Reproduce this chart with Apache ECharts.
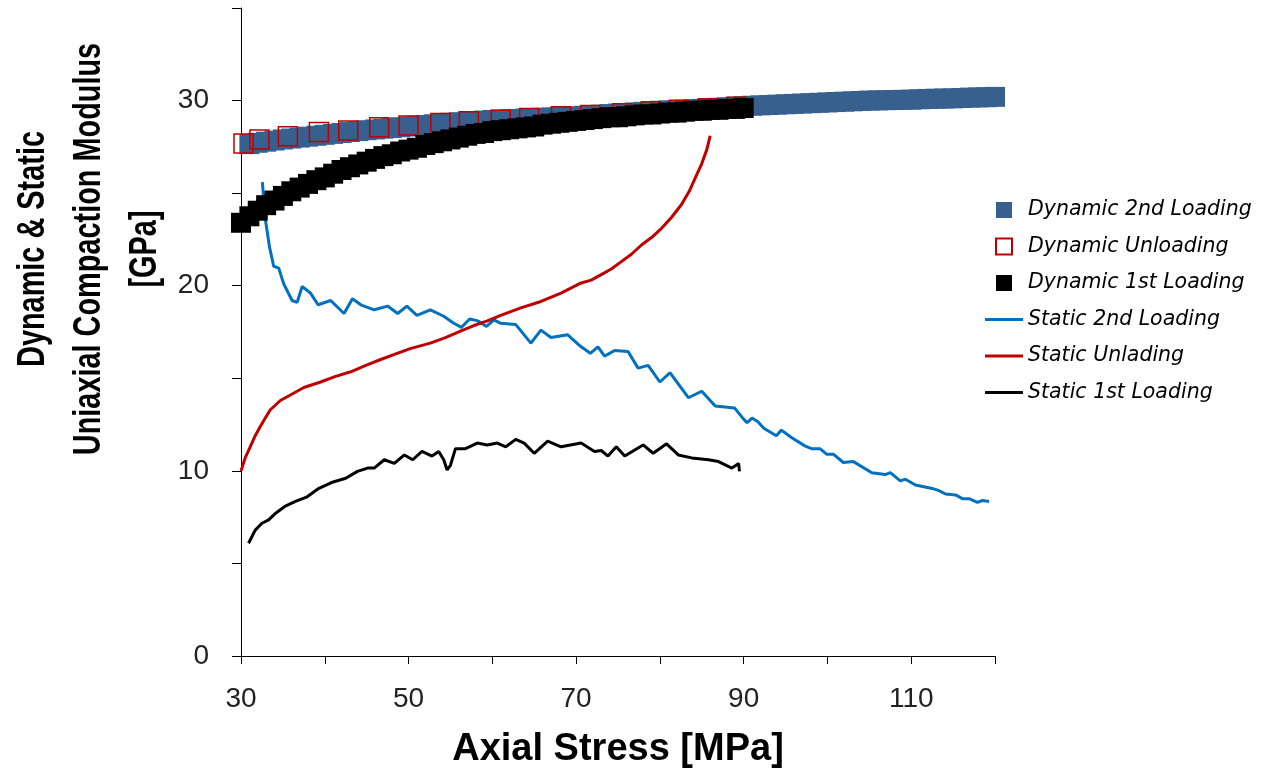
<!DOCTYPE html>
<html>
<head>
<meta charset="utf-8">
<script src="https://cdn.jsdelivr.net/npm/echarts@6/dist/echarts.min.js"></script>
<style>
  html, body { margin: 0; padding: 0; background: #fff; }
  #chart { width: 1268px; height: 772px; }
</style>
</head>
<body>
<div id="chart"></div>
<script>
// tick labels shown on the axes
var xTickLabels = [30, 50, 70, 90, 110];
var yTickLabels = [0, 10, 20, 30];

// Dynamic 2nd Loading (dense blue squares)
var dyn2X = [31, 32, 33, 34, 35, 36, 37, 38, 39, 40, 41, 42, 43, 44, 45, 46, 47, 48, 49, 50,
  51, 52, 53, 54, 55, 56, 57, 58, 59, 60, 61, 62, 63, 64, 65, 66, 67, 68, 69, 70,
  71, 72, 73, 74, 75, 76, 77, 78, 79, 80, 81, 82, 83, 84, 85, 86, 87, 88, 89, 90,
  91, 92, 93, 94, 95, 96, 97, 98, 99, 100, 101, 102, 103, 104, 105, 106, 107, 108, 109, 110,
  111, 112, 113, 114, 115, 116, 117, 118, 119, 120];
var dyn2Y = [27.65, 27.72, 27.78, 27.84, 27.9, 27.95, 28.0, 28.05, 28.1, 28.15, 28.2, 28.25, 28.3, 28.35, 28.4, 28.44, 28.48, 28.52, 28.56, 28.6,
  28.64, 28.68, 28.72, 28.76, 28.8, 28.83, 28.86, 28.89, 28.92, 28.95, 28.97, 28.99, 29.01, 29.03, 29.05, 29.07, 29.09, 29.11, 29.13, 29.15,
  29.18, 29.21, 29.24, 29.27, 29.3, 29.33, 29.36, 29.39, 29.42, 29.45, 29.47, 29.49, 29.51, 29.53, 29.55, 29.58, 29.61, 29.64, 29.67, 29.7,
  29.72, 29.74, 29.76, 29.78, 29.8, 29.82, 29.84, 29.86, 29.88, 29.9, 29.92, 29.94, 29.96, 29.98, 30.0, 30.01, 30.02, 30.03, 30.04, 30.05,
  30.07, 30.09, 30.1, 30.11, 30.12, 30.14, 30.16, 30.17, 30.18, 30.2];

// Dynamic Unloading (hollow red squares)
var dynUnX = [30.3, 32.2, 35.6, 39.3, 42.8, 46.5, 50.0, 53.8, 57.2, 61.0, 64.4, 68.2, 71.7, 75.5, 78.9, 82.3, 85.7, 89.2];
var dynUnY = [27.68, 27.9, 28.07, 28.3, 28.38, 28.56, 28.65, 28.79, 28.88, 28.97, 29.06, 29.15, 29.22, 29.32, 29.42, 29.5, 29.58, 29.66];

// Dynamic 1st Loading (dense black squares)
var dyn1X = [30, 31, 32, 33, 34, 35, 36, 37, 38, 39, 40, 41, 42, 43, 44, 45, 46, 47, 48, 49, 50,
  51, 52, 53, 54, 55, 56, 57, 58, 59, 60, 61, 62, 63, 64, 65, 66, 67, 68, 69, 70,
  71, 72, 73, 74, 75, 76, 77, 78, 79, 80, 81, 82, 83, 84, 85, 86, 87, 88, 89, 90];
var dyn1Y = [23.4, 23.75, 24.05, 24.35, 24.6, 24.85, 25.1, 25.3, 25.5, 25.7, 25.85, 26.05, 26.25, 26.4, 26.55, 26.7, 26.85, 27.0, 27.1, 27.25, 27.35,
  27.45, 27.6, 27.7, 27.8, 27.9, 28.0, 28.1, 28.2, 28.25, 28.35, 28.4, 28.45, 28.5, 28.55, 28.6, 28.7, 28.75, 28.8, 28.85, 28.9,
  28.95, 29.0, 29.05, 29.1, 29.1, 29.15, 29.2, 29.25, 29.25, 29.3, 29.35, 29.35, 29.4, 29.45, 29.45, 29.5, 29.5, 29.55, 29.55, 29.6];

// Static 2nd Loading (blue line)
var st2X = [32.55, 32.9, 33.4, 33.9, 34.5, 35.1, 36.1, 36.7, 37.3, 38.3, 39.2, 40.7, 42.3, 43.3, 44.3, 45.9, 47.5, 48.7, 49.8, 51.0,
  52.6, 54.2, 55.3, 56.3, 57.3, 58.3, 59.3, 60.2, 61.0, 62.8, 64.6, 65.8, 67.0, 69.0, 70.6, 71.7, 72.6, 73.4, 74.6, 76.2,
  77.4, 78.6, 80.0, 81.2, 83.4, 85.0, 86.6, 88.9, 89.8, 90.4, 91.0, 91.7, 92.4, 93.9, 94.5, 95.7, 97.3, 98.1, 99.1, 99.9,
  100.7, 101.9, 103.1, 105.3, 106.9, 107.5, 108.7, 109.3, 110.5, 112.5, 113.3, 114.1, 115.3, 116.1, 116.9, 117.9, 118.5, 119.3];
var st2Y = [25.6, 23.6, 22.1, 21.05, 20.95, 20.1, 19.2, 19.1, 19.96, 19.6, 18.97, 19.2, 18.5, 19.3, 18.97, 18.7, 18.9, 18.5, 18.9, 18.4,
  18.7, 18.35, 18.0, 17.75, 18.2, 18.1, 17.8, 18.15, 17.97, 17.9, 16.9, 17.6, 17.2, 17.35, 16.7, 16.35, 16.7, 16.2, 16.5, 16.45,
  15.55, 15.7, 14.8, 15.3, 13.95, 14.3, 13.5, 13.4, 12.9, 12.6, 12.85, 12.65, 12.3, 11.9, 12.2, 11.8, 11.35, 11.2, 11.2, 10.9,
  10.9, 10.45, 10.5, 9.9, 9.8, 9.9, 9.46, 9.55, 9.24, 9.05, 8.93, 8.75, 8.7, 8.5, 8.5, 8.3, 8.4, 8.35];

// Static Unlading (red line)
var stUnX = [30.0, 30.5, 31.1, 31.7, 32.3, 32.9, 33.5, 34.7, 35.9, 37.5, 39.5, 41.3, 43.1, 44.9, 46.6, 48.4, 50.2, 52.6, 54.4, 56.2,
  57.8, 59.4, 61.0, 63.4, 65.8, 68.2, 70.6, 71.8, 73.0, 74.2, 75.4, 76.6, 77.8, 79.0, 80.2, 81.4, 82.6, 83.5, 84.4, 85.0, 85.6, 86.0];
var stUnY = [10.0, 10.7, 11.3, 11.9, 12.4, 12.85, 13.3, 13.8, 14.1, 14.5, 14.8, 15.1, 15.35, 15.7, 16.0, 16.3, 16.6, 16.9, 17.2, 17.55,
  17.85, 18.1, 18.4, 18.8, 19.15, 19.6, 20.15, 20.3, 20.6, 20.9, 21.3, 21.7, 22.2, 22.6, 23.1, 23.7, 24.4, 25.1, 26.0, 26.6, 27.35, 28.1];

// Static 1st Loading (black line)
var st1X = [30.9, 31.7, 32.5, 33.3, 34.1, 35.3, 36.5, 37.9, 39.3, 40.8, 42.5, 43.9, 45.1, 45.9, 47.1, 48.3, 49.5, 50.5, 51.6, 52.8,
  53.6, 54.2, 54.6, 55.0, 55.6, 56.8, 58.2, 59.4, 60.6, 61.6, 62.8, 63.8, 65.0, 66.6, 68.2, 70.6, 72.2, 73.0, 73.8, 74.8,
  75.8, 78.0, 79.2, 80.8, 82.2, 83.8, 85.8, 87.0, 88.6, 89.4, 89.5];
var st1Y = [6.09, 6.8, 7.17, 7.35, 7.7, 8.1, 8.35, 8.6, 9.06, 9.37, 9.6, 9.97, 10.15, 10.15, 10.6, 10.4, 10.86, 10.6, 11.05, 10.8,
  11.05, 10.6, 10.05, 10.3, 11.2, 11.2, 11.5, 11.4, 11.5, 11.3, 11.7, 11.5, 10.95, 11.6, 11.3, 11.5, 11.05, 11.1, 10.8, 11.3,
  10.8, 11.4, 10.95, 11.46, 10.86, 10.7, 10.6, 10.5, 10.15, 10.4, 9.97];

function pairs(xs, ys) {
  var out = [];
  for (var i = 0; i < xs.length; i++) out.push([xs[i], ys[i]]);
  return out;
}

// legend icons: a centred square for the dynamic series, a short bar for the static ones
var squareIcon = 'path://M0,0L10,0L10,10L0,10Z';
var lineIcon = 'path://M0,0L38,0L38,3L0,3Z';

var chart = echarts.init(document.getElementById('chart'));
var tickFont = 'Liberation Sans, Arial, sans-serif';

chart.setOption({
  animation: false,
  backgroundColor: '#fff',
  grid: { left: 241, right: 273, top: 8, bottom: 116, containLabel: false, outerBoundsMode: 'none' },
  legend: {
    orient: 'vertical',
    left: 985,
    top: 200,
    padding: 0,
    itemWidth: 38,
    itemHeight: 16,
    itemGap: 16.5,
    symbolKeepAspect: true,
    textStyle: { fontFamily: 'DejaVu Sans, sans-serif', fontStyle: 'italic', fontSize: 20.5, lineHeight: 20, color: '#000' },
    data: [
      { name: 'Dynamic 2nd Loading', icon: squareIcon },
      { name: 'Dynamic Unloading', icon: squareIcon },
      { name: 'Dynamic 1st Loading', icon: squareIcon },
      { name: 'Static 2nd Loading', icon: lineIcon },
      { name: 'Static Unlading', icon: lineIcon },
      { name: 'Static 1st Loading', icon: lineIcon }
    ]
  },
  xAxis: {
    type: 'value',
    min: 30,
    max: 120,
    interval: 10,
    name: 'Axial Stress [MPa]',
    nameLocation: 'middle',
    nameGap: 75,
    nameTextStyle: { fontFamily: 'Liberation Sans, Arial, sans-serif', fontWeight: 'bold', fontSize: 38, color: '#000' },
    axisLine: { lineStyle: { color: '#000', width: 1 } },
    axisTick: { inside: false, length: 8, lineStyle: { color: '#000' } },
    splitLine: { show: false },
    axisLabel: {
      margin: 29,
      fontFamily: tickFont,
      fontSize: 28,
      color: '#222',
      formatter: function (v) { return xTickLabels.indexOf(v) >= 0 ? String(v) : ''; }
    }
  },
  yAxis: {
    type: 'value',
    min: 0,
    max: 35,
    interval: 5,
    axisLine: { show: true, lineStyle: { color: '#000', width: 1 } },
    axisTick: { show: true, inside: false, length: 9, lineStyle: { color: '#000' } },
    splitLine: { show: false },
    axisLabel: {
      margin: 32,
      fontFamily: tickFont,
      fontSize: 28,
      color: '#222',
      formatter: function (v) { return yTickLabels.indexOf(v) >= 0 ? String(v) : ''; }
    }
  },
  graphic: [{
    type: 'text',
    x: 90,
    y: 249,
    rotation: Math.PI / 2,
    scaleX: 0.76,
    style: {
      text: 'Dynamic & Static\nUniaxial Compaction Modulus\n[GPa]',
      fontFamily: 'Liberation Sans, Arial, sans-serif',
      fontWeight: 'bold',
      fontSize: 38,
      lineHeight: 56,
      fill: '#000',
      align: 'center',
      verticalAlign: 'middle'
    }
  }],
  series: [
    {
      name: 'Dynamic 2nd Loading',
      type: 'scatter',
      symbol: 'rect',
      symbolSize: 20,
      z: 3,
      itemStyle: { color: '#37608F', opacity: 1 },
      data: pairs(dyn2X, dyn2Y)
    },
    {
      name: 'Dynamic Unloading',
      type: 'scatter',
      symbol: 'rect',
      symbolSize: 19,
      z: 4,
      itemStyle: { color: 'rgba(255,255,255,0)', borderColor: '#C00000', borderWidth: 1.5, opacity: 1 },
      data: pairs(dynUnX, dynUnY)
    },
    {
      name: 'Dynamic 1st Loading',
      type: 'scatter',
      symbol: 'rect',
      symbolSize: 20,
      z: 5,
      itemStyle: { color: '#000', opacity: 1 },
      data: pairs(dyn1X, dyn1Y)
    },
    {
      name: 'Static 2nd Loading',
      type: 'line',
      symbol: 'none',
      z: 2,
      lineStyle: { color: '#0070C0', width: 3 },
      itemStyle: { color: '#0070C0' },
      data: pairs(st2X, st2Y)
    },
    {
      name: 'Static Unlading',
      type: 'line',
      symbol: 'none',
      z: 2,
      lineStyle: { color: '#C00000', width: 3 },
      itemStyle: { color: '#C00000' },
      data: pairs(stUnX, stUnY)
    },
    {
      name: 'Static 1st Loading',
      type: 'line',
      symbol: 'none',
      z: 2,
      lineStyle: { color: '#000', width: 3 },
      itemStyle: { color: '#000' },
      data: pairs(st1X, st1Y)
    }
  ]
});
</script>
</body>
</html>
